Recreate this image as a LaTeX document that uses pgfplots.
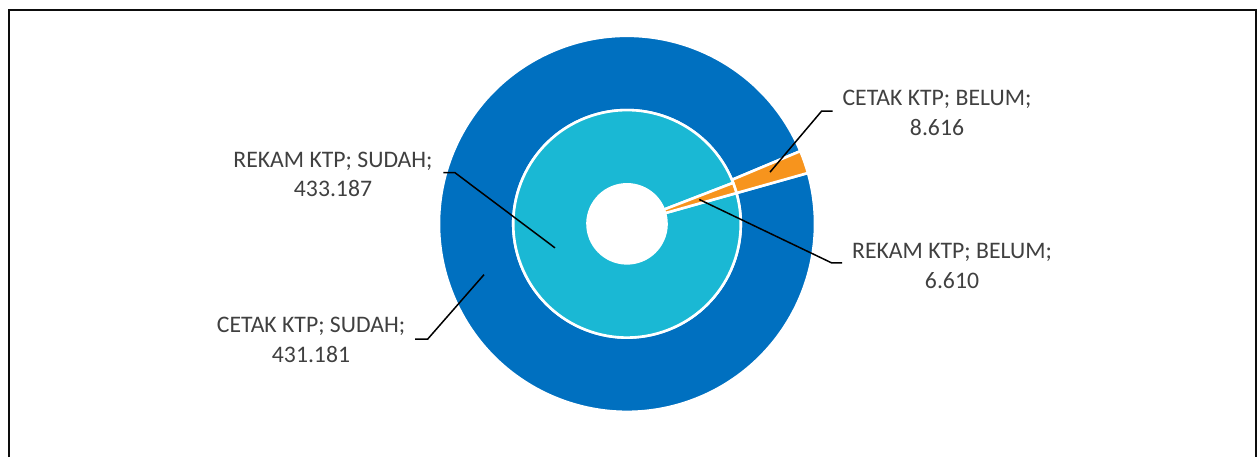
\documentclass[border=0pt]{standalone}
\usepackage{pgfplots}
\usepackage{pgfplotstable}
\pgfplotsset{compat=1.18}
\usepackage{fontspec}
\setmainfont{Carlito}
\definecolor{cblue}{HTML}{0070C0}
\definecolor{ccyan}{HTML}{1AB8D4}
\definecolor{corange}{HTML}{F7941D}
\definecolor{ctext}{HTML}{404040}
% values in thousands (Indonesian notation: 431.181 = 431181)
\pgfplotstableread{
ring  sudah    belum
cetak 431.181  8.616
rekam 433.187  6.610
}\ktpdata
\pgfplotstablegetelem{0}{sudah}\of\ktpdata \let\cs\pgfplotsretval
\pgfplotstablegetelem{0}{belum}\of\ktpdata \let\cb\pgfplotsretval
\pgfplotstablegetelem{1}{sudah}\of\ktpdata \let\rs\pgfplotsretval
\pgfplotstablegetelem{1}{belum}\of\ktpdata \let\rb\pgfplotsretval
\def\startang{15.7}
\pgfmathsetmacro\csang{360*(\cs/(\cs+\cb))}
\pgfmathsetmacro\rsang{360*(\rs/(\rs+\rb))}
\pgfmathsetmacro\csend{\startang-\csang}
\pgfmathsetmacro\rsend{\startang-\rsang}
\pgfmathsetmacro\cbend{\startang+360-\csang}
\pgfmathsetmacro\rbend{\startang+360-\rsang}
\newcommand\ringwedge[5]{% color, a, b, rin, rout
  \filldraw[fill=#1, draw=white, line width=1.3pt, line join=round]
    ([shift={(#2:#5)}]axis cs:627,232.7) arc[start angle=#2, end angle=#3, radius=#5]
    -- ([shift={(#3:#4)}]axis cs:627,232.7) arc[start angle=#3, end angle=#2, radius=#4] -- cycle;}
\begin{document}
\begin{tikzpicture}
\begin{axis}[
  at={(0,0)}, anchor=south west,
  width=628.5pt, height=228.5pt, scale only axis,
  xmin=0, xmax=1257, ymin=0, ymax=457,
  hide axis, clip=false,
]
\addplot[draw=none] coordinates {(0,0)};
% outer ring: CETAK KTP
\ringwedge{cblue}{\csend}{\startang}{56.875pt}{94pt}
\ringwedge{corange}{\startang}{\cbend}{56.875pt}{94pt}
% inner ring: REKAM KTP
\ringwedge{ccyan}{\rsend}{\startang}{19.75pt}{56.875pt}
\ringwedge{corange}{\startang}{\rbend}{19.75pt}{56.875pt}
% leader lines
\draw[black, line width=0.75pt] (axis cs:770,284.3) -- (axis cs:821.7,345.3) -- (axis cs:832.7,345.3);
\draw[black, line width=0.75pt] (axis cs:699.3,257) -- (axis cs:831.7,193.7) -- (axis cs:842,193.7);
\draw[black, line width=0.75pt] (axis cs:443.3,283.7) -- (axis cs:455,283.7) -- (axis cs:555,208.7);
\draw[black, line width=0.75pt] (axis cs:415,117.7) -- (axis cs:427.7,117.7) -- (axis cs:484,182);
% labels
\tikzset{lbl/.style={text=ctext, align=center, inner sep=0pt,
  font=\fontsize{11.85pt}{14.9pt}\selectfont}}
\node[lbl] at (axis cs:937,343.5) {CETAK KTP; BELUM;\\8.616};
\node[lbl] at (axis cs:333,282) {REKAM KTP; SUDAH;\\433.187};
\node[lbl] at (axis cs:952,191) {REKAM KTP; BELUM;\\6.610};
\node[lbl] at (axis cs:311,116.5) {CETAK KTP; SUDAH;\\431.181};
% chart frame
\draw[black!95, line width=1pt] (axis cs:9,0) -- (axis cs:9,446.5) -- (axis cs:1255.5,446.5) -- (axis cs:1255.5,0);
\end{axis}
\pgfresetboundingbox
\path (0,0) rectangle (628.5pt,228.5pt);
\end{tikzpicture}
\end{document}
